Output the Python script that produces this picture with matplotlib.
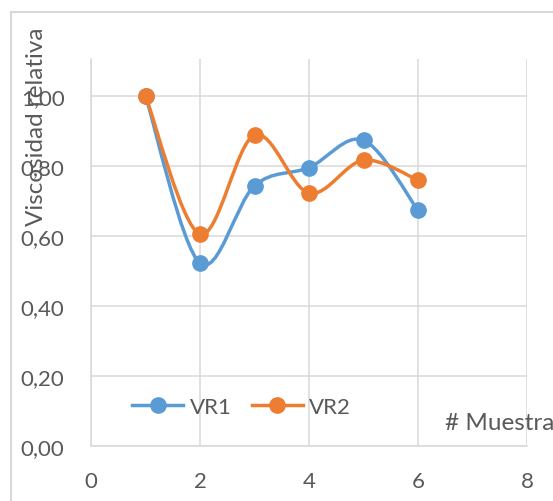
import numpy as np
import matplotlib.pyplot as plt
from matplotlib.path import Path
from matplotlib.patches import PathPatch, Rectangle
from matplotlib.lines import Line2D

plt.rcParams["font.family"] = ["Lato", "DejaVu Sans"]

muestra = [1, 2, 3, 4, 5, 6]
vr1 = [1.00, 0.522, 0.743, 0.795, 0.873, 0.673]
vr2 = [1.00, 0.605, 0.888, 0.722, 0.816, 0.759]
y_ticks = [0.0, 0.2, 0.4, 0.6, 0.8, 1.0]
x_ticks = [0, 2, 4, 6, 8]

blue = "#5B9BD5"
orange = "#ED7D31"
grey_text = "#595959"
grid_col = "#D9D9D9"


def smooth_path(x, y):
    # Excel-like smoothed line: cubic Bezier through points (Catmull-Rom tangents)
    pts = np.column_stack([x, y]).astype(float)
    verts = [pts[0]]
    codes = [Path.MOVETO]
    n = len(pts)
    for i in range(n - 1):
        p0 = pts[i - 1] if i > 0 else pts[i]
        p1 = pts[i]
        p2 = pts[i + 1]
        p3 = pts[i + 2] if i + 2 < n else pts[i + 1]
        c1 = p1 + (p2 - p0) / 6
        c2 = p2 - (p3 - p1) / 6
        verts += [c1, c2, p2]
        codes += [Path.CURVE4] * 3
    return Path(verts, codes)


fig = plt.figure(figsize=(5.53, 5.02), dpi=100)
ax = fig.add_axes([91 / 553, 55 / 502, 436 / 553, 387 / 502])

for ys, col in [(vr1, blue), (vr2, orange)]:
    ax.add_patch(PathPatch(smooth_path(muestra, ys), fill=False, edgecolor=col,
                           lw=2.5, capstyle="round", joinstyle="round", zorder=3))
    ax.plot(muestra, ys, "o", color=col, ms=11, zorder=4)

ax.set_xlim(0, 8)
ax.set_ylim(0, 1.105)
ax.set_xticks(x_ticks)
ax.set_yticks(y_ticks)
ax.set_yticklabels([f"{v:.2f}".replace(".", ",") for v in y_ticks])
ax.grid(True, color=grid_col, lw=1.1)
ax.set_axisbelow(True)
for s in ["top", "right"]:
    ax.spines[s].set_visible(False)
for s in ["left", "bottom"]:
    ax.spines[s].set_color(grid_col)
    ax.spines[s].set_linewidth(1.1)
ax.tick_params(length=0, labelsize=16, labelcolor=grey_text)
ax.tick_params(axis="y", pad=19)
ax.tick_params(axis="x", pad=18)

handles = [Line2D([], [], color=blue, lw=2.5, marker="o", ms=11),
           Line2D([], [], color=orange, lw=2.5, marker="o", ms=11)]
ax.legend(handles, ["VR1", "VR2"], loc="center left", bbox_to_anchor=(132 / 553, 1 - 408 / 502),
          bbox_transform=fig.transFigure, ncol=2, frameon=False, fontsize=16,
          labelcolor=grey_text, handlelength=2.3, handletextpad=0.3, columnspacing=0.9,
          borderpad=0, borderaxespad=0)

fig.text(37 / 553, 1 - 127 / 502, "Viscosidad relativa", rotation=90, ha="center", va="center",
         fontsize=17.5, color=grey_text)
fig.text(445 / 553, 1 - 424 / 502, "# Muestra", ha="left", va="center", fontsize=17.5, color=grey_text)

fig.add_artist(Rectangle((11 / 553, -0.1), 1.2, 1 - 13 / 502 + 0.1, transform=fig.transFigure,
                         fill=False, edgecolor=grid_col, lw=1.5))

fig.savefig("out.png", dpi=100)
